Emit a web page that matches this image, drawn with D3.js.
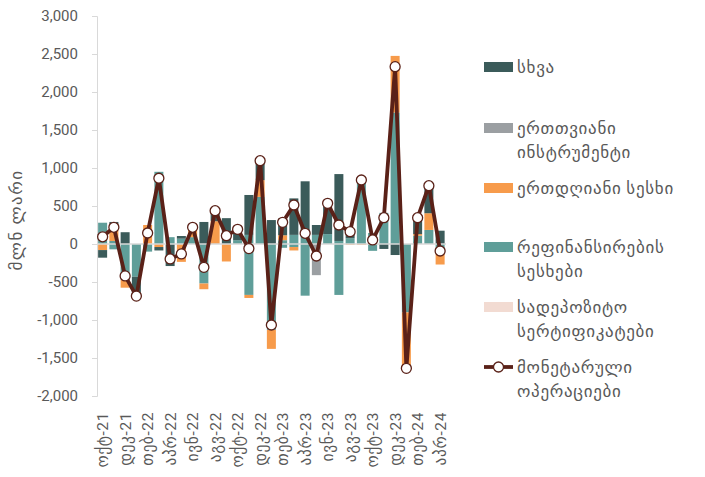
<!DOCTYPE html>
<html><head><meta charset="utf-8">
<script src="https://cdn.jsdelivr.net/npm/d3@7"></script>
<style>
body{margin:0;background:#fff;}
text{font-family:Roboto,"DejaVu Sans",sans-serif;}
</style></head>
<body>
<svg id="c" width="705" height="477"></svg>
<script>
const months = ["ოქტ-21","ნოე-21","დეკ-21","იან-22","თებ-22","მარ-22","აპრ-22","მაი-22","ივნ-22","ივლ-22","აგვ-22","სექ-22",
"ოქტ-22","ნოე-22","დეკ-22","იან-23","თებ-23","მარ-23","აპრ-23","მაი-23","ივნ-23","ივლ-23","აგვ-23","სექ-23",
"ოქტ-23","ნოე-23","დეკ-23","იან-24","თებ-24","მარ-24","აპრ-24"];
// series values (mln GEL)
const other        = [-100,30,155,-250,0,-45,-290,35,0,290,140,340,145,525,260,315,220,480,640,130,405,880,100,0,0,-65,-145,0,215,360,175];
const oneMonth     = [0,0,0,0,0,0,0,0,0,0,0,0,0,0,0,0,0,0,0,-410,0,0,0,0,0,0,0,0,0,0,0];
const overnight    = [-80,220,-100,0,250,-40,0,-235,130,-75,300,-230,0,-40,220,-250,65,-45,0,0,0,0,-10,-10,0,0,745,-735,20,220,-215];
const refinUp      = [280,40,0,0,0,950,90,70,90,0,0,0,50,120,620,0,50,120,185,120,130,40,75,850,145,410,1730,0,110,185,0];
const refinDown    = [0,-70,-475,-430,-100,0,0,0,0,-520,0,0,0,-670,0,-1130,-50,-40,-680,0,0,-670,0,0,-90,0,0,-900,0,0,-55];
const certificates = [0,0,0,0,0,0,0,0,0,0,0,0,0,0,0,0,0,0,0,0,0,0,0,0,0,0,0,0,0,0,0];
const monetaryOps  = [95,220,-420,-685,145,865,-197,-130,220,-307,438,109,193,-60,1096,-1066,285,513,141,-158,535,250,162,842,53,346,2333,-1636,346,767,-92];
const yTicks = [-2000,-1500,-1000,-500,0,500,1000,1500,2000,2500,3000];

const colors = {certificates:"#f2dbd2", refinUp:"#5f9e99", refinDown:"#5f9e99", overnight:"#f79b4b", oneMonth:"#9b9fa2", other:"#3b5b5a"};
const lineColor = "#5a2118";

const keys = ["certificates","refinUp","refinDown","overnight","oneMonth","other"];
const src = {certificates, refinUp, refinDown, overnight, oneMonth, other};
const table = months.map((m,i)=>{const o={month:m}; keys.forEach(k=>o[k]=src[k][i]); return o;});

const svg = d3.select("#c");
const x = d3.scaleBand().domain(months).range([97,445.75]).paddingInner(0.2).paddingOuter(0.1);
const y = d3.scaleLinear().domain([-2000,3000]).range([396,16]);

const stack = d3.stack().keys(keys).offset(d3.stackOffsetDiverging);
const series = stack(table);

const g = svg.append("g");
g.selectAll("g.s").data(series).join("g").attr("fill",d=>colors[d.key])
 .selectAll("rect").data(d=>d).join("rect")
 .attr("x",d=>x(d.data.month)).attr("width",x.bandwidth())
 .attr("y",d=>y(Math.max(d[0],d[1]))).attr("height",d=>Math.abs(y(d[0])-y(d[1])));

// zero line
svg.append("line").attr("x1",97).attr("x2",446).attr("y1",y(0)).attr("y2",y(0))
 .attr("stroke","#d9d9d9").attr("stroke-width",1.5);

// y axis
const loc = d3.formatLocale({decimal:".",thousands:",",grouping:[3],currency:["",""],minus:"-"});
const ya = d3.axisLeft(y).tickValues(yTicks).tickFormat(loc.format(",")).tickSize(5).tickPadding(14);
const yg = svg.append("g").attr("transform","translate(97,0)").call(ya);
yg.select(".domain").attr("stroke","#d9d9d9");
yg.selectAll(".tick line").attr("stroke","#d9d9d9");
yg.selectAll("text").attr("fill","#595959").style("font-size","15px").style("font-family","Roboto");

// x axis labels
const xa = d3.axisBottom(x).tickValues(months.filter((m,i)=>i%2===0)).tickSize(0).tickPadding(0);
const xg = svg.append("g").attr("transform","translate(0,405)").call(xa);
xg.select(".domain").remove();
xg.selectAll("text").attr("fill","#595959").style("font-size","15.5px").style("letter-spacing","0.6px")
 .attr("transform","rotate(-90)").attr("text-anchor","end").attr("x",-7).attr("y",0).attr("dy","0.35em");

// y title
svg.append("text").attr("transform","translate(22,220) rotate(-90)").attr("text-anchor","middle")
 .attr("fill","#595959").style("font-size","17px").style("letter-spacing","1.5px").text("მლნ ლარი");

// line
const line = d3.line().x((d,i)=>x(months[i])+x.bandwidth()/2).y(d=>y(d));
svg.append("path").datum(monetaryOps).attr("d",line).attr("fill","none").attr("stroke",lineColor)
 .attr("stroke-width",3.8).attr("stroke-linejoin","round");
svg.selectAll("circle.m").data(monetaryOps).join("circle").attr("class","m")
 .attr("cx",(d,i)=>x(months[i])+x.bandwidth()/2).attr("cy",d=>y(d)).attr("r",5)
 .attr("fill","#fff").attr("stroke",lineColor).attr("stroke-width",1.3);

// legend
const legend = [
 {c:colors.other, t:["სხვა"], y:67},
 {c:colors.oneMonth, t:["ერთთვიანი","ინსტრუმენტი"], y:128},
 {c:colors.overnight, t:["ერთდღიანი სესხი"], y:188},
 {c:colors.refinUp, t:["რეფინანსირების","სესხები"], y:247},
 {c:colors.certificates, t:["სადეპოზიტო","სერტიფიკატები"], y:307},
 {c:null, t:["მონეტარული","ოპერაციები"], y:367}
];
const lg = svg.append("g");
legend.forEach(l=>{
  if(l.c){
    lg.append("rect").attr("x",484).attr("y",l.y-5).attr("width",29).attr("height",10).attr("fill",l.c);
  } else {
    lg.append("line").attr("x1",484).attr("x2",513).attr("y1",l.y).attr("y2",l.y).attr("stroke",lineColor).attr("stroke-width",3.8);
    lg.append("circle").attr("cx",498.5).attr("cy",l.y).attr("r",5).attr("fill","#fff").attr("stroke",lineColor).attr("stroke-width",1.3);
  }
  l.t.forEach((s,j)=>{
    lg.append("text").attr("x",517).attr("y",l.y+j*24).attr("dy","0.35em").attr("fill","#595959")
      .style("font-size","17px").style("letter-spacing","0.7px").text(s);
  });
});
</script>
</body></html>
